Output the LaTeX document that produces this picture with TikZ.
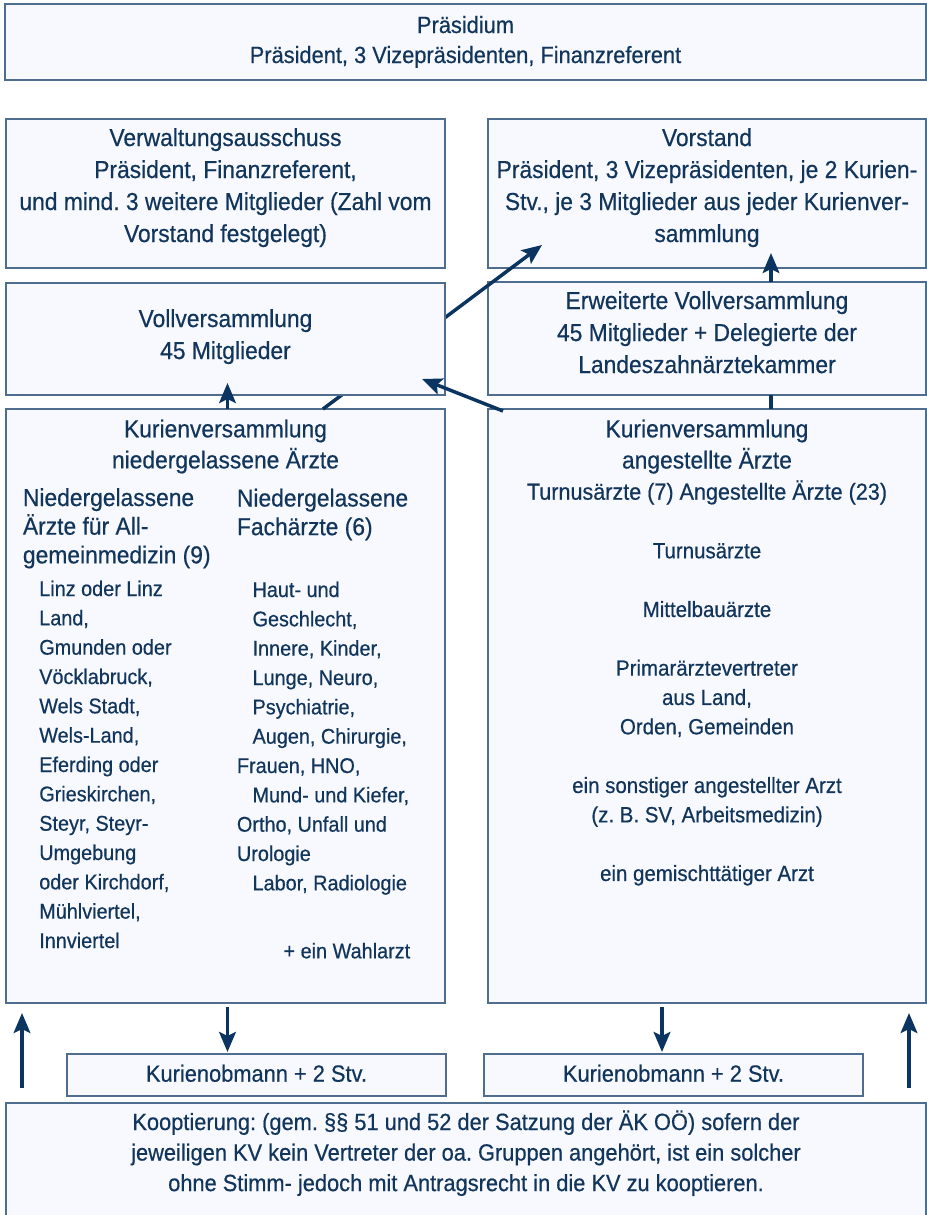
\documentclass[tikz,border=0pt]{standalone}
\usepackage{fontspec}
\setmainfont{Liberation Sans}[FakeStretch=0.93, RawFeature={embolden=0.5}]
\usetikzlibrary{fit,calc,arrows.meta}
\definecolor{txt}{HTML}{12355B}
\definecolor{arrc}{HTML}{0B3460}
\definecolor{bdr}{HTML}{4F6D8F}
\definecolor{bfill}{HTML}{F7F9FF}
\frenchspacing
\newcommand\mlc[1]{\vtop{\halign{\hfil##\hfil\cr#1\crcr}}}
\newcommand\mll[1]{\vtop{\halign{##\hfil\cr#1\crcr}}}
\newcommand\indl{\kern11.7pt}
\begin{document}
\begin{tikzpicture}[x=0.75pt,y=-0.75pt,
  box/.style={draw=bdr, fill=bfill, line width=1.1pt, inner sep=0pt, outer sep=0pt},
  txtc/.style={text=txt, inner sep=0pt, anchor=base},
  txtl/.style={text=txt, inner sep=0pt, anchor=base west},
  big/.style={font=\fontsize{18.4pt}{24pt}\selectfont},
  med/.style={font=\fontsize{17.6pt}{22.9pt}\selectfont},
  small/.style={font=\fontsize{16pt}{22pt}\selectfont},
  conn/.style={draw=arrc, line width=2.6pt, -{Stealth[length=15pt,width=12.5pt,inset=3pt]}},
  plainconn/.style={draw=arrc, line width=2.6pt}]
\fill[white] (0,0) rectangle (927,1215);
\useasboundingbox (0,0) rectangle (927,1215);

% Praesidium
\node[box, fit={(5,4)(926,80)}] (pr) {};
\node[txtc, font=\fontsize{17.6pt}{22.5pt}\selectfont] (prt) at (465.5,33)
  {\mlc{Präsidium\cr Präsident, 3 Vizepräsidenten, Finanzreferent}};

% Verwaltungsausschuss
\node[box, fit={(6,119)(445,268)}] (va) {};
\node[txtc, big] (vat) at (225.5,146)
  {\mlc{Verwaltungsausschuss\cr Präsident, Finanzreferent,\cr und mind. 3 weitere Mitglieder (Zahl vom\cr Vorstand festgelegt)}};

% Vorstand
\node[box, fit={(488,119)(926,268)}] (vs) {};
\node[txtc, big] (vst) at (707,146)
  {\mlc{Vorstand\cr Präsident, 3 Vizepräsidenten, je 2 Kurien-\cr Stv., je 3 Mitglieder aus jeder Kurienver-\cr sammlung}};

% Erweiterte Vollversammlung
\node[box, fit={(488,282)(926,395)}] (ev) {};
\node[txtc, big] (evt) at (707,309)
  {\mlc{Erweiterte Vollversammlung\cr 45 Mitglieder + Delegierte der\cr Landeszahnärztekammer}};

% Kurienversammlungen
\node[box, fit={(6,409)(445,1003)}] (kl) {};
\node[box, fit={(488,409)(926,1003)}] (kr) {};

% connector hidden behind Vollversammlung
\draw[conn] ($(kl.north west)+(317,0)$) -- ($(vs.south west)+(54,-23)$);

% Vollversammlung
\node[box, fit={(6,283)(445,395)}] (vv) {};
\node[txtc, big] (vvt) at (225.5,327)
  {\mlc{Vollversammlung\cr 45 Mitglieder}};

\draw[conn] ($(kr.north west)+(15,2)$) -- ($(vv.south east)+(-23,-16)$);
\draw[conn] ($(kl.north)+(2,0)$) -- ($(vv.south)+(2,-12)$);
\draw[plainconn] ($(kr.north)+(64,0)$) -- ($(ev.south)+(64,0)$);
\draw[conn] ($(ev.north)+(64,0)$) -- ($(vs.south)+(64,-15)$);

% left Kurienversammlung texts
\node[txtc, font=\fontsize{18.4pt}{23.3pt}\selectfont] (klt) at (225.5,437.3)
  {\mlc{Kurienversammlung\cr niedergelassene Ärzte}};
\node[txtl, font=\fontsize{18.4pt}{21.5pt}\selectfont] (klh1) at (22.7,506)
  {\mll{Niedergelassene\cr Ärzte für All-\cr gemeinmedizin (9)}};
\node[txtl, font=\fontsize{18.4pt}{21.5pt}\selectfont] (klh2) at (236.7,506.5)
  {\mll{Niedergelassene\cr Fachärzte (6)}};
\node[txtl, small] (kll1) at (39,596)
  {\mll{Linz oder Linz\cr Land,\cr Gmunden oder\cr Vöcklabruck,\cr Wels Stadt,\cr Wels-Land,\cr Eferding oder\cr Grieskirchen,\cr Steyr, Steyr-\cr Umgebung\cr oder Kirchdorf,\cr Mühlviertel,\cr Innviertel}};
\node[txtl, small] (kll2) at (236.7,597)
  {\mll{\indl Haut- und\cr \indl Geschlecht,\cr \indl Innere, Kinder,\cr \indl Lunge, Neuro,\cr \indl Psychiatrie,\cr \indl Augen, Chirurgie,\cr Frauen, HNO,\cr \indl Mund- und Kiefer,\cr Ortho, Unfall und\cr Urologie\cr \indl Labor, Radiologie}};
\node[txtl, small] (klw) at (283.3,958.3) {+ ein Wahlarzt};

% right Kurienversammlung texts
\node[txtc, font=\fontsize{18.4pt}{23.4pt}\selectfont] (krt) at (707,437.3)
  {\mlc{Kurienversammlung\cr angestellte Ärzte\cr {\fontsize{17.4pt}{23.4pt}\selectfont Turnusärzte (7) Angestellte Ärzte (23)}}};
\node[txtc, font=\fontsize{16.5pt}{22pt}\selectfont] (krl) at (707,558.3)
  {\mlc{Turnusärzte\cr\cr Mittelbauärzte\cr\cr Primarärztevertreter\cr aus Land,\cr Orden, Gemeinden\cr\cr ein sonstiger angestellter Arzt\cr (z. B. SV, Arbeitsmedizin)\cr\cr ein gemischttätiger Arzt}};

% Kurienobmann boxes
\node[box, fit={(67,1054)(446,1096)}] (ko1) {};
\node[txtc, med] (ko1t) at (256.5,1081.7) {Kurienobmann + 2 Stv.};
\node[box, fit={(484,1054)(863,1096)}] (ko2) {};
\node[txtc, med] (ko2t) at (673.5,1081.7) {Kurienobmann + 2 Stv.};

% Kooptierung
\node[box, fit={(6,1103)(926,1240)}] (koop) {};
\node[txtc, med] (koopt) at (466,1130)
  {\mlc{Kooptierung: (gem. §§ 51 und 52 der Satzung der ÄK OÖ) sofern der\cr jeweiligen KV kein Vertreter der oa. Gruppen angehört, ist ein solcher\cr ohne Stimm- jedoch mit Antragsrecht in die KV zu kooptieren.}};

% lower connectors
\coordinate (d1) at ($(kl.south)+(2,0)$);
\coordinate (d2) at ($(kr.south)+(-45,0)$);
\draw[conn, shorten <=3pt, shorten >=1.5pt] (d1) -- (d1 |- ko1.north);
\draw[conn, shorten <=3pt, shorten >=1.5pt] (d2) -- (d2 |- ko2.north);
\draw[conn, shorten <=11.25pt, shorten >=7.5pt] ($(koop.north west)+(16,0)$) -- ($(kl.south west)+(16,0)$);
\draw[conn, shorten <=11.25pt, shorten >=7.5pt] ($(koop.north east)+(-17,0)$) -- ($(kr.south east)+(-17,0)$);
\end{tikzpicture}
\end{document}
